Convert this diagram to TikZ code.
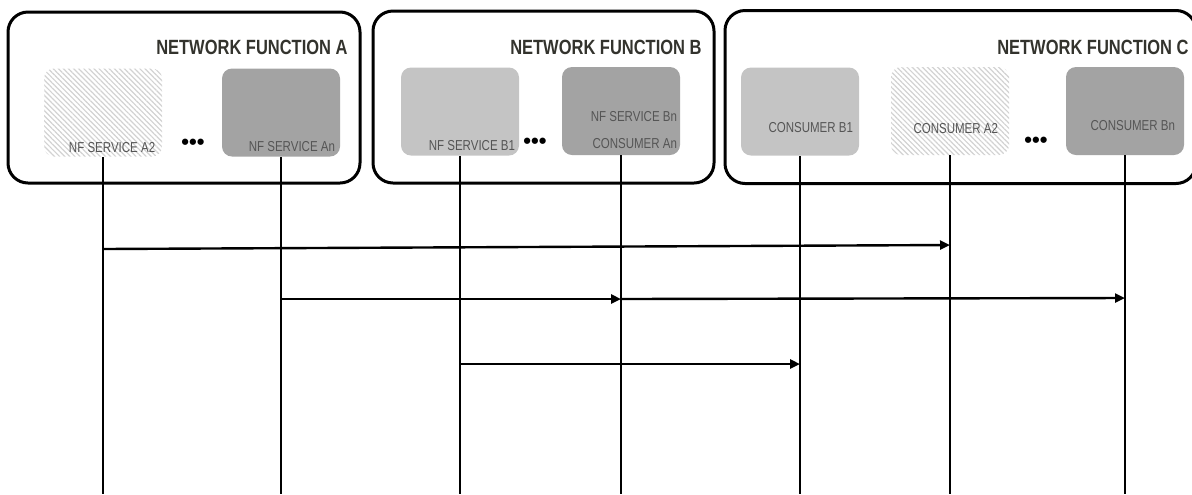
\documentclass[tikz,border=0pt]{standalone}
\usepackage{fontspec}
\newfontfamily\condfont[FakeStretch=0.8]{Liberation Sans}
\newfontfamily\dotfont{Liberation Sans}
\usetikzlibrary{arrows.meta,positioning,patterns.meta}
\definecolor{svclight}{RGB}{196,196,196}
\definecolor{svcdark}{RGB}{163,163,163}
\definecolor{svctext}{RGB}{85,85,85}
\definecolor{nftext}{RGB}{51,51,45}
\tikzset{
  nfbox/.style={draw=black, line width=1.5pt, rounded corners=10pt, inner sep=0pt},
  svcbox/.style={rounded corners=5pt, minimum width=59pt, minimum height=44pt, inner sep=0pt},
  lightsvc/.style={svcbox, fill=svclight},
  darksvc/.style={svcbox, fill=svcdark},
  hatchsvc/.style={svcbox, pattern={Lines[angle=-45,distance=1.8pt,line width=0.6pt]}, pattern color=gray!35},
  nftitle/.style={font=\condfont\bfseries\fontsize{10.3}{12}\selectfont, text=nftext, anchor=east, inner sep=0pt},
  svclabel/.style={font=\condfont\fontsize{7.2}{8}\selectfont, text=svctext, anchor=base east, inner sep=0pt},
  moredots/.style={font=\dotfont\bfseries\fontsize{11}{12}\selectfont, inner sep=0pt},
  lifeline/.style={line width=0.9pt},
  msg/.style={line width=1.2pt, -{Triangle[length=5pt,width=4.5pt]}}
}
\begin{document}
\begin{tikzpicture}[x=0.5pt, y=-0.5pt]
    \useasboundingbox (0,0) rectangle (1192,494);
    \clip (0,0) rectangle (1192,494);

    % Network functions
    \node[nfbox, minimum width=176pt, minimum height=85.5pt] (nfa) at (184,97.5) {};
    \node[nfbox, minimum width=170.5pt, minimum height=86pt] (nfb) at (543.5,97) {};
    \node[nfbox, minimum width=235.5pt, minimum height=86.5pt] (nfc) at (960.5,97) {};
    \node[nftitle] (ta) at (348,47) {NETWORK FUNCTION A};
    \node[nftitle] (tb) at (702,47) {NETWORK FUNCTION B};
    \node[nftitle] (tc) at (1189,47) {NETWORK FUNCTION C};

    % Services of A
    \node[hatchsvc] (a2) at (103,112.5) {};
    \node[darksvc] (an) at (281,112.5) {};
    \node[svclabel] (la2) at ([xshift=-3.5pt,yshift=2.5pt]a2.south east) {NF SERVICE A2};
    \node[svclabel] (lan) at ([xshift=-2.5pt,yshift=2.5pt]an.south east) {NF SERVICE An};
    \node[moredots] (da) at (193,144) {•••};

    % Services of B
    \node[lightsvc] (b1) at (460,111.5) {};
    \node[darksvc] (bn) at (621,111) {};
    \node[svclabel] (lb1) at ([xshift=-2pt,yshift=2.5pt]b1.south east) {NF SERVICE B1};
    \node[svclabel] (lbn) at ([xshift=-1.5pt,yshift=17pt]bn.south east) {NF SERVICE Bn};
    \node[svclabel] (lcan) at ([xshift=-1.5pt,yshift=3.5pt]bn.south east) {CONSUMER An};
    \node[moredots] (db) at (535,143) {•••};

    % Consumers in C
    \node[lightsvc] (cb1) at (800,111.5) {};
    \node[hatchsvc] (ca2) at (950,111) {};
    \node[darksvc] (cbn) at (1125,111) {};
    \node[svclabel] (lcb1) at ([xshift=-3pt,yshift=11.5pt]cb1.south east) {CONSUMER B1};
    \node[svclabel] (lca2) at ([xshift=-5.5pt,yshift=11pt]ca2.south east) {CONSUMER A2};
    \node[svclabel] (lcbn) at ([xshift=-4.5pt,yshift=12.5pt]cbn.south east) {CONSUMER Bn};
    \node[moredots] (dc) at (1036,142) {•••};

    % Lifelines
    \foreach \s in {a2,an,b1,bn,cb1,ca2,cbn}
        \draw[lifeline] (\s.south) -- (\s.south |- 0,494);

    % Messages
    \draw[msg] (a2.south |- 0,249) -- (ca2.south |- 0,245);
    \draw[msg] (an.south |- 0,299) -- (bn.south |- 0,299);
    \draw[msg] (bn.south |- 0,299) -- (cbn.south |- 0,298);
    \draw[msg] (b1.south |- 0,364) -- (cb1.south |- 0,364);
\end{tikzpicture}
\end{document}
